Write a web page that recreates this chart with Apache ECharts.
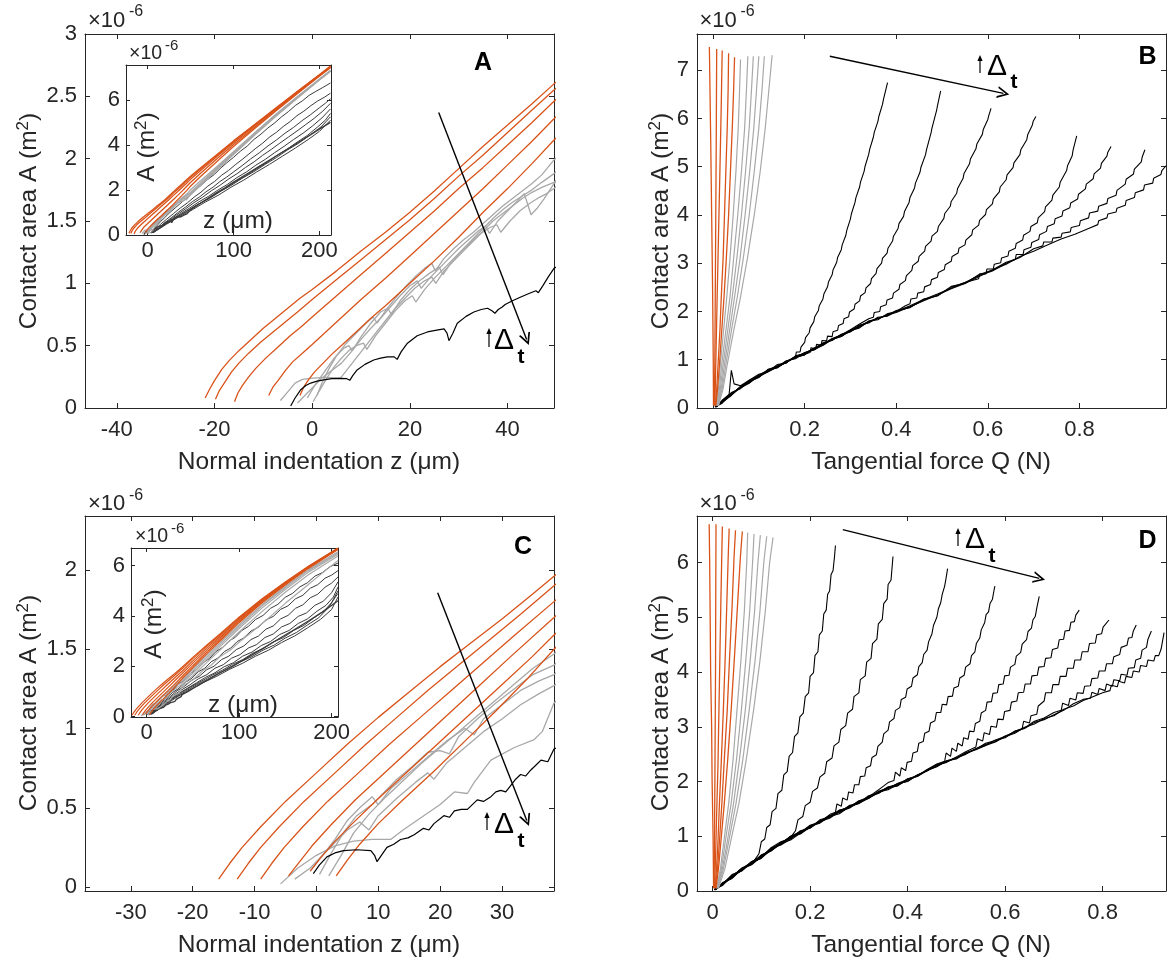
<!DOCTYPE html>
<html><head><meta charset="utf-8">
<script src="https://cdn.jsdelivr.net/npm/echarts@6/dist/echarts.min.js"></script>
<style>html,body{margin:0;padding:0;background:#fff}#c{width:1174px;height:962px}</style>
</head><body><div id="c"></div>
<script>
// ---------- tick labels ----------
const A_xticks = [-40, -20, 0, 20, 40];
const A_yticks = [0, 0.5, 1, 1.5, 2, 2.5, 3];
const inset_xticks = [0, 100, 200];
const inset_yticks = [0, 2, 4, 6];
const B_xticks = [0, 0.2, 0.4, 0.6, 0.8];
const B_yticks = [0, 1, 2, 3, 4, 5, 6, 7];
const C_xticks = [-30, -20, -10, 0, 10, 20, 30];
const C_yticks = [0, 0.5, 1, 1.5, 2];
const D_xticks = [0, 0.2, 0.4, 0.6, 0.8];
const D_yticks = [0, 1, 2, 3, 4, 5, 6];

// ---------- Panel A : z (um) vs A (x1e-6 m^2) ----------
const A_orange = [
 [[-21.9,0.08],[-21,0.15],[-20,0.22],[-18.5,0.31],[-17,0.38],[-15,0.46],[-12.5,0.55],[-10,0.64],[-7.5,0.72],[-5,0.8],[-2.5,0.88],[0,0.95],[5,1.1],[10,1.26],[15,1.41],[20,1.57],[25,1.74],[30,1.92],[35,2.1],[40,2.27],[45,2.44],[49.5,2.6],[60,2.93],[80,3.55],[100,4.18],[125,4.92],[150,5.66],[175,6.4],[200,7.12],[213,7.5]],
 [[-19.8,0.07],[-19,0.14],[-18,0.2],[-16.5,0.29],[-15,0.36],[-13,0.44],[-10.5,0.53],[-8,0.61],[-5.5,0.69],[-3,0.77],[0,0.87],[5,1.03],[10,1.19],[15,1.35],[20,1.51],[25,1.68],[30,1.86],[35,2.03],[40,2.21],[45,2.39],[49.5,2.55],[60,2.89],[80,3.52],[100,4.15],[125,4.9],[150,5.64],[175,6.38],[200,7.1],[213,7.48]],
 [[-15.9,0.05],[-15.2,0.12],[-14.3,0.18],[-13,0.25],[-11.5,0.32],[-9.5,0.4],[-7,0.49],[-4.5,0.58],[-2,0.66],[0,0.73],[5,0.9],[10,1.07],[15,1.24],[20,1.41],[25,1.58],[30,1.76],[35,1.93],[40,2.11],[45,2.29],[49.5,2.46],[60,2.81],[80,3.46],[100,4.1],[125,4.86],[150,5.61],[175,6.36],[200,7.09],[213,7.47]],
 [[-8.9,0.1],[-8,0.17],[-7,0.22],[-5.5,0.3],[-4,0.37],[-2,0.44],[0,0.51],[2.5,0.6],[5,0.69],[7.5,0.78],[10,0.87],[15,1.04],[20,1.22],[25,1.4],[30,1.58],[35,1.76],[40,1.95],[45,2.14],[49.5,2.32],[60,2.69],[80,3.36],[100,4.02],[125,4.8],[150,5.57],[175,6.33],[200,7.07],[213,7.45]],
 [[-2.5,0.1],[-1.7,0.17],[-0.7,0.23],[0.5,0.29],[2,0.35],[4,0.43],[6.5,0.52],[9,0.61],[12,0.72],[15,0.82],[20,1.0],[25,1.18],[30,1.37],[35,1.57],[40,1.76],[45,1.96],[49.5,2.15],[60,2.54],[80,3.24],[100,3.93],[125,4.74],[150,5.53],[175,6.3],[200,7.05],[213,7.43]]
];
const A_gray = [
 [[-6.5,0.06],[-5,0.13],[-3.5,0.2],[-2,0.23],[0,0.24],[3,0.245],[5.8,0.24],[7,0.3],[9,0.4],[11,0.5],[13,0.6],[15,0.7],[17,0.8],[19,0.88],[21,0.96],[23,1.02],[24.5,1.05],[25.3,1.0],[27,1.1],[29,1.18],[31,1.26],[33,1.34],[35,1.42],[37,1.5],[39,1.56],[41,1.62],[43,1.68],[45,1.73],[47,1.77],[49.5,1.81],[60,2.2],[80,2.92],[100,3.62],[125,4.48],[150,5.32],[175,6.12],[200,6.9],[213,7.28]],
 [[-1,0.08],[0.5,0.18],[2.5,0.29],[4.5,0.4],[6.5,0.48],[7.5,0.5],[8.2,0.46],[10,0.57],[12,0.68],[14,0.77],[15.5,0.8],[16.2,0.75],[18,0.86],[20,0.95],[22,1.02],[24,1.08],[26,1.13],[26.8,1.07],[28.5,1.17],[30.5,1.25],[32.5,1.33],[34.5,1.4],[36.5,1.45],[37.8,1.47],[38.6,1.41],[40.5,1.5],[42.5,1.58],[44.5,1.64],[46.5,1.69],[48,1.72],[49.5,1.76],[60,2.14],[80,2.86],[100,3.57],[125,4.45],[150,5.3],[175,6.1],[200,6.88],[213,7.27]],
 [[1,0.1],[2,0.2],[3.5,0.32],[5,0.42],[7,0.52],[9,0.6],[11,0.68],[12.5,0.73],[13.3,0.68],[15,0.78],[17,0.88],[19,0.97],[21,1.05],[23,1.12],[24.5,1.16],[25.2,1.1],[27,1.2],[29,1.28],[31,1.35],[33,1.41],[35,1.48],[37,1.55],[39,1.62],[41,1.68],[43,1.74],[45,1.8],[47,1.87],[49.5,1.99],[60,2.35],[80,3.02],[100,3.7],[125,4.55],[150,5.38],[175,6.16],[200,6.92],[213,7.3]],
 [[-3,0.04],[-1.5,0.1],[0,0.16],[2,0.24],[4,0.3],[6,0.36],[8,0.45],[10,0.55],[12,0.64],[14,0.72],[16,0.81],[18,0.9],[20,0.98],[21.5,1.02],[22.3,0.96],[24,1.04],[26,1.12],[28,1.2],[30,1.28],[32,1.35],[34,1.42],[35.5,1.46],[36.3,1.4],[38,1.5],[40,1.58],[42,1.66],[43.4,1.72],[44.8,1.55],[46,1.6],[47.5,1.68],[49.5,1.8],[60,2.17],[80,2.88],[100,3.6],[125,4.47],[150,5.32],[175,6.12],[200,6.9],[213,7.28]],
 [[0.2,0.05],[1.5,0.14],[3,0.24],[4.5,0.33],[6,0.4],[7.5,0.46],[9,0.5],[10.5,0.52],[11.2,0.47],[13,0.58],[15,0.68],[17,0.78],[19,0.86],[20.5,0.9],[21.2,0.85],[23,0.95],[25,1.04],[27,1.12],[29,1.2],[31,1.28],[33,1.36],[35,1.44],[37,1.52],[39,1.59],[41,1.65],[43,1.7],[45,1.75],[47,1.81],[49.5,1.88],[60,2.26],[80,2.96],[100,3.66],[125,4.52],[150,5.36],[175,6.15],[200,6.92],[213,7.3]]
];
const A_black = [
 [[-4.4,0.016],[-3.5,0.08],[-2.4,0.144],[-1.3,0.18],[-0.3,0.2],[1,0.215],[2.4,0.225],[4,0.235],[5.8,0.238],[7,0.236],[7.7,0.222],[8.3,0.26],[9.2,0.305],[10.8,0.35],[12.6,0.385],[14,0.4],[15.4,0.41],[16.8,0.41],[17.4,0.39],[18.2,0.45],[19.5,0.52],[21.5,0.58],[23.6,0.61],[25.5,0.625],[27,0.634],[27.6,0.6],[28,0.54],[28.8,0.6],[29.7,0.68],[31.5,0.735],[33.1,0.77],[34.6,0.79],[35.9,0.8],[36.8,0.78],[37.4,0.76],[38.1,0.79],[38.9,0.81],[39.5,0.83],[41,0.86],[42.7,0.89],[44.5,0.92],[45.8,0.94],[46.3,0.925],[47.2,0.98],[48.3,1.05],[49.5,1.12],[55,1.25],[60,1.38],[70,1.62],[80,1.87],[90,2.1],[100,2.35],[115,2.7],[130,3.05],[145,3.4],[160,3.75],[175,4.1],[190,4.45],[200,4.7],[213,5.0]]
];
const A_inset_dark = [
 [[3,0.08],[6,0.2],[10,0.38],[15,0.6],[20,0.78],[25,0.97],[32,1.2],[40,1.47],[48,1.72],[55,1.98],[62,2.2],[70,2.47],[78,2.7],[85,2.97],[92,3.2],[100,3.45],[108,3.72],[116,3.95],[124,4.25],[132,4.48],[140,4.75],[148,4.98],[156,5.25],[164,5.48],[172,5.75],[180,5.95],[188,6.2],[196,6.38],[204,6.55],[213,6.75]],
 [[4,0.08],[9,0.25],[15,0.48],[22,0.7],[30,0.95],[38,1.2],[46,1.42],[54,1.68],[62,1.9],[70,2.17],[78,2.38],[86,2.65],[94,2.86],[102,3.12],[110,3.35],[118,3.6],[126,3.85],[134,4.08],[142,4.35],[150,4.56],[158,4.82],[166,5.04],[174,5.3],[182,5.5],[190,5.74],[198,5.95],[206,6.12],[213,6.3]],
 [[5,0.1],[12,0.3],[20,0.55],[28,0.78],[36,1.02],[44,1.24],[52,1.48],[60,1.68],[68,1.92],[76,2.12],[84,2.37],[92,2.57],[100,2.8],[110,3.08],[120,3.38],[130,3.65],[140,3.95],[150,4.22],[160,4.52],[170,4.78],[180,5.08],[190,5.35],[200,5.65],[207,5.85],[213,6.05]],
 [[5,0.1],[14,0.32],[24,0.62],[34,0.9],[44,1.16],[54,1.44],[64,1.68],[74,1.96],[84,2.2],[94,2.48],[104,2.72],[114,3.0],[124,3.25],[134,3.54],[144,3.8],[154,4.08],[164,4.35],[174,4.62],[184,4.9],[194,5.18],[204,5.5],[213,5.85]],
 [[6,0.1],[16,0.36],[27,0.66],[38,0.94],[49,1.2],[60,1.48],[71,1.72],[82,2.0],[93,2.25],[104,2.55],[115,2.8],[126,3.1],[137,3.36],[148,3.66],[159,3.94],[170,4.24],[181,4.52],[192,4.84],[203,5.2],[213,5.6]],
 [[6,0.12],[18,0.42],[30,0.72],[42,0.98],[54,1.26],[66,1.52],[78,1.8],[90,2.06],[102,2.36],[114,2.62],[126,2.92],[138,3.2],[150,3.52],[162,3.8],[174,4.12],[186,4.42],[198,4.8],[207,5.1],[213,5.4]],
 [[7,0.12],[20,0.46],[33,0.78],[46,1.05],[59,1.36],[72,1.62],[85,1.94],[98,2.22],[111,2.54],[124,2.82],[137,3.14],[150,3.44],[163,3.78],[176,4.08],[189,4.44],[202,4.8],[213,5.25]],
 [[7,0.12],[22,0.48],[37,0.82],[52,1.12],[67,1.46],[82,1.76],[97,2.12],[112,2.44],[127,2.8],[142,3.14],[157,3.5],[172,3.86],[187,4.24],[200,4.6],[213,5.1]]
];

// ---------- Panel B : Q (N) vs A ----------
const B_orange = [
 [[0.001,0.05],[0.0005,1],[-0.001,2.5],[-0.003,4],[-0.005,5.5],[-0.008,7.48]],
 [[0.003,0.05],[0.004,1],[0.005,2.5],[0.006,4],[0.007,5.5],[0.008,7.44]],
 [[0.004,0.05],[0.006,0.9],[0.009,2.3],[0.012,3.6],[0.015,4.9],[0.018,6.3],[0.02,7.41]],
 [[0.005,0.05],[0.008,0.4],[0.011,0.9],[0.015,1.6],[0.018,2.3],[0.022,3.1],[0.025,4.0],[0.028,4.9],[0.031,5.8],[0.033,6.6],[0.034,7.35]],
 [[0.006,0.05],[0.01,0.4],[0.014,0.9],[0.019,1.6],[0.024,2.3],[0.029,3.1],[0.034,4.0],[0.038,4.9],[0.042,5.8],[0.045,6.6],[0.047,7.27]]
];
const B_gray = [
 [[0.007,0.05],[0.012,0.4],[0.016,0.9],[0.023,1.6],[0.03,2.3],[0.037,3.1],[0.044,4.0],[0.05,4.9],[0.055,5.8],[0.058,6.6],[0.06,7.22]],
 [[0.008,0.05],[0.014,0.4],[0.019,0.9],[0.028,1.6],[0.037,2.3],[0.045,3.1],[0.054,4.0],[0.062,4.9],[0.069,5.8],[0.073,6.6],[0.076,7.29]],
 [[0.009,0.05],[0.016,0.4],[0.022,0.9],[0.032,1.6],[0.042,2.3],[0.052,3.1],[0.062,4.0],[0.071,4.9],[0.079,5.8],[0.084,6.6],[0.088,7.29]],
 [[0.01,0.05],[0.018,0.4],[0.025,0.9],[0.036,1.6],[0.047,2.3],[0.059,3.1],[0.07,4.0],[0.08,4.9],[0.089,5.8],[0.095,6.6],[0.1,7.29]],
 [[0.011,0.05],[0.02,0.4],[0.028,0.9],[0.04,1.6],[0.053,2.3],[0.066,3.1],[0.079,4.0],[0.09,4.9],[0.1,5.8],[0.107,6.6],[0.112,7.29]],
 [[0.012,0.05],[0.022,0.4],[0.031,0.9],[0.045,1.6],[0.06,2.3],[0.075,3.1],[0.09,4.0],[0.103,4.9],[0.114,5.8],[0.122,6.6],[0.129,7.31]]
];
const B_black = [
 [[0.004,0.02],[0.02,0.14],[0.035,0.27],[0.04,0.78],[0.046,0.5],[0.06,0.46],[0.08,0.58],[0.1,0.67],[0.12,0.77],[0.14,0.87],[0.16,0.96],[0.175,1.04],[0.18,1.06],[0.182,1.16],[0.19,1.16],[0.192,1.26],[0.2,1.36],[0.202,1.46],[0.21,1.56],[0.212,1.66],[0.22,1.79],[0.222,1.89],[0.23,2.02],[0.232,2.12],[0.24,2.26],[0.242,2.36],[0.25,2.51],[0.252,2.61],[0.26,2.76],[0.262,2.86],[0.27,3.02],[0.272,3.12],[0.28,3.28],[0.282,3.38],[0.29,3.58],[0.292,3.68],[0.3,3.92],[0.302,4.02],[0.31,4.26],[0.312,4.36],[0.32,4.58],[0.322,4.68],[0.33,4.91],[0.332,5.01],[0.34,5.26],[0.342,5.36],[0.35,5.61],[0.352,5.71],[0.36,5.94],[0.362,6.04],[0.37,6.29],[0.372,6.39],[0.381,6.74]],
 [[0.006,0.03],[0.02,0.1],[0.03,0.22],[0.05,0.36],[0.07,0.5],[0.09,0.6],[0.11,0.7],[0.13,0.8],[0.15,0.9],[0.17,1.0],[0.2,1.12],[0.212,1.15],[0.214,1.25],[0.224,1.22],[0.226,1.32],[0.236,1.3],[0.238,1.4],[0.248,1.39],[0.25,1.49],[0.26,1.48],[0.262,1.58],[0.272,1.61],[0.274,1.71],[0.284,1.75],[0.286,1.85],[0.296,1.89],[0.298,1.99],[0.308,2.05],[0.31,2.15],[0.32,2.22],[0.322,2.32],[0.332,2.39],[0.334,2.49],[0.344,2.58],[0.346,2.68],[0.356,2.79],[0.358,2.89],[0.368,3.0],[0.37,3.1],[0.38,3.21],[0.382,3.31],[0.392,3.46],[0.394,3.56],[0.404,3.72],[0.406,3.82],[0.416,3.97],[0.418,4.07],[0.428,4.26],[0.43,4.36],[0.44,4.56],[0.442,4.66],[0.452,4.89],[0.454,4.99],[0.464,5.25],[0.466,5.35],[0.476,5.7],[0.478,5.8],[0.488,6.16],[0.49,6.26],[0.497,6.57]],
 [[0.005,0.02],[0.025,0.15],[0.04,0.3],[0.06,0.42],[0.08,0.55],[0.1,0.65],[0.12,0.77],[0.14,0.86],[0.16,0.97],[0.18,1.04],[0.2,1.14],[0.22,1.22],[0.24,1.33],[0.26,1.42],[0.28,1.52],[0.3,1.62],[0.32,1.74],[0.34,1.85],[0.35,1.88],[0.352,1.98],[0.364,2.0],[0.366,2.1],[0.378,2.14],[0.38,2.24],[0.392,2.28],[0.394,2.38],[0.406,2.46],[0.408,2.56],[0.42,2.64],[0.422,2.74],[0.434,2.85],[0.436,2.95],[0.448,3.04],[0.45,3.14],[0.462,3.25],[0.464,3.35],[0.476,3.46],[0.478,3.56],[0.49,3.66],[0.492,3.76],[0.504,3.93],[0.506,4.03],[0.518,4.18],[0.52,4.28],[0.532,4.45],[0.534,4.55],[0.546,4.76],[0.548,4.86],[0.56,5.06],[0.562,5.16],[0.574,5.37],[0.576,5.47],[0.588,5.67],[0.59,5.77],[0.6,5.98],[0.602,6.06],[0.607,6.21]],
 [[0.006,0.03],[0.02,0.13],[0.04,0.28],[0.06,0.44],[0.08,0.53],[0.1,0.66],[0.12,0.76],[0.14,0.85],[0.16,0.95],[0.18,1.06],[0.2,1.1],[0.22,1.24],[0.24,1.3],[0.26,1.43],[0.28,1.48],[0.3,1.6],[0.32,1.7],[0.34,1.78],[0.36,1.86],[0.38,1.92],[0.4,2.0],[0.42,2.12],[0.43,2.16],[0.432,2.26],[0.445,2.28],[0.447,2.38],[0.46,2.41],[0.462,2.51],[0.475,2.56],[0.477,2.66],[0.49,2.71],[0.492,2.81],[0.505,2.87],[0.507,2.97],[0.52,3.04],[0.522,3.14],[0.535,3.21],[0.537,3.31],[0.55,3.38],[0.552,3.48],[0.565,3.59],[0.567,3.69],[0.58,3.79],[0.582,3.89],[0.595,4.01],[0.597,4.11],[0.61,4.23],[0.612,4.33],[0.625,4.48],[0.627,4.58],[0.64,4.73],[0.642,4.83],[0.655,4.98],[0.657,5.08],[0.67,5.25],[0.672,5.35],[0.685,5.56],[0.687,5.66],[0.697,5.86],[0.699,5.94],[0.705,6.04]],
 [[0.007,0.02],[0.02,0.16],[0.04,0.32],[0.06,0.4],[0.08,0.56],[0.1,0.64],[0.12,0.79],[0.14,0.84],[0.16,0.98],[0.18,1.02],[0.2,1.15],[0.22,1.2],[0.24,1.35],[0.26,1.4],[0.28,1.53],[0.3,1.58],[0.32,1.72],[0.34,1.76],[0.36,1.88],[0.38,1.9],[0.4,2.0],[0.43,2.12],[0.46,2.25],[0.49,2.36],[0.52,2.48],[0.55,2.6],[0.58,2.68],[0.582,2.78],[0.596,2.78],[0.598,2.88],[0.612,2.88],[0.614,2.98],[0.628,3.01],[0.63,3.11],[0.644,3.15],[0.646,3.25],[0.66,3.31],[0.662,3.41],[0.676,3.48],[0.678,3.58],[0.692,3.66],[0.694,3.76],[0.708,3.84],[0.71,3.94],[0.724,4.07],[0.726,4.17],[0.74,4.31],[0.742,4.41],[0.756,4.58],[0.758,4.68],[0.772,4.92],[0.774,5.02],[0.784,5.22],[0.786,5.34],[0.794,5.64]],
 [[0.005,0.03],[0.02,0.12],[0.04,0.26],[0.06,0.43],[0.08,0.58],[0.1,0.7],[0.12,0.75],[0.14,0.9],[0.16,0.93],[0.18,1.08],[0.2,1.13],[0.22,1.24],[0.24,1.34],[0.26,1.41],[0.28,1.5],[0.3,1.6],[0.32,1.66],[0.34,1.8],[0.36,1.85],[0.38,1.93],[0.4,1.98],[0.43,2.1],[0.46,2.22],[0.49,2.34],[0.52,2.47],[0.55,2.58],[0.58,2.72],[0.61,2.86],[0.64,3.02],[0.66,3.08],[0.662,3.18],[0.677,3.18],[0.679,3.28],[0.694,3.33],[0.696,3.43],[0.711,3.49],[0.713,3.59],[0.728,3.66],[0.73,3.76],[0.745,3.82],[0.747,3.92],[0.762,3.98],[0.764,4.08],[0.779,4.15],[0.781,4.25],[0.796,4.33],[0.798,4.43],[0.813,4.54],[0.815,4.64],[0.83,4.75],[0.832,4.85],[0.846,4.97],[0.848,5.07],[0.86,5.22],[0.862,5.3],[0.869,5.42]],
 [[0.006,0.02],[0.02,0.15],[0.04,0.3],[0.06,0.42],[0.08,0.52],[0.1,0.68],[0.12,0.79],[0.14,0.83],[0.16,0.96],[0.18,1.05],[0.2,1.1],[0.22,1.23],[0.24,1.32],[0.26,1.44],[0.28,1.51],[0.3,1.58],[0.32,1.7],[0.34,1.8],[0.36,1.83],[0.38,1.95],[0.4,2.0],[0.43,2.09],[0.46,2.24],[0.49,2.33],[0.52,2.5],[0.55,2.6],[0.58,2.74],[0.61,2.84],[0.64,3.0],[0.67,3.12],[0.7,3.3],[0.72,3.36],[0.722,3.44],[0.74,3.44],[0.742,3.52],[0.76,3.54],[0.762,3.62],[0.78,3.65],[0.782,3.74],[0.8,3.78],[0.802,3.88],[0.82,3.94],[0.822,4.04],[0.84,4.08],[0.842,4.18],[0.86,4.24],[0.862,4.34],[0.88,4.41],[0.882,4.51],[0.9,4.64],[0.902,4.74],[0.918,4.85],[0.92,4.95],[0.935,5.1],[0.937,5.2],[0.943,5.35]],
 [[0.008,0.03],[0.02,0.13],[0.04,0.27],[0.06,0.45],[0.08,0.55],[0.1,0.63],[0.12,0.8],[0.14,0.86],[0.16,0.94],[0.18,1.06],[0.2,1.14],[0.22,1.2],[0.24,1.3],[0.26,1.42],[0.28,1.48],[0.3,1.62],[0.32,1.68],[0.34,1.78],[0.36,1.86],[0.38,1.91],[0.4,2.02],[0.43,2.08],[0.46,2.26],[0.49,2.32],[0.52,2.52],[0.55,2.58],[0.58,2.76],[0.61,2.86],[0.64,2.98],[0.67,3.14],[0.7,3.25],[0.73,3.38],[0.76,3.5],[0.79,3.6],[0.82,3.72],[0.84,3.8],[0.842,3.88],[0.86,3.94],[0.862,4.02],[0.88,4.06],[0.882,4.14],[0.9,4.2],[0.902,4.3],[0.92,4.36],[0.922,4.46],[0.94,4.52],[0.942,4.62],[0.96,4.66],[0.962,4.76],[0.978,4.84],[0.98,4.92],[0.989,5.02]]
];

// ---------- Panel C ----------
const C_orange = [
 [[-15.8,0.05],[-14,0.15],[-12,0.25],[-9,0.38],[-5,0.54],[0,0.72],[5,0.9],[10,1.07],[15,1.23],[20,1.39],[25,1.54],[30,1.69],[35,1.85],[38.4,1.96],[50,2.35],[65,2.83],[80,3.3],[100,3.95],[125,4.68],[150,5.35],[175,5.97],[207,6.7]],
 [[-12.8,0.05],[-11,0.15],[-9,0.25],[-6,0.38],[-2,0.54],[3,0.72],[8,0.9],[13,1.07],[18,1.24],[23,1.4],[28,1.56],[33,1.72],[38.4,1.9],[50,2.3],[65,2.79],[80,3.27],[100,3.92],[125,4.66],[150,5.33],[175,5.96],[207,6.69]],
 [[-9,0.05],[-7.2,0.15],[-5.2,0.25],[-2.2,0.38],[1.8,0.54],[6.8,0.72],[11.8,0.9],[16.8,1.07],[21.8,1.24],[26.8,1.41],[31.8,1.58],[38.4,1.8],[50,2.21],[65,2.72],[80,3.21],[100,3.88],[125,4.63],[150,5.31],[175,5.94],[207,6.68]],
 [[-4.5,0.07],[-2.7,0.16],[-0.7,0.26],[2.3,0.39],[6.3,0.55],[11.3,0.73],[16.3,0.91],[21.3,1.09],[26.3,1.27],[31.3,1.45],[38.4,1.7],[50,2.12],[65,2.64],[80,3.15],[100,3.83],[125,4.6],[150,5.29],[175,5.93],[207,6.67]],
 [[-1,0.1],[0.8,0.19],[2.8,0.28],[5.8,0.4],[9.8,0.55],[14.8,0.73],[19.8,0.91],[24.8,1.09],[29.8,1.27],[34.8,1.45],[38.4,1.59],[50,2.02],[65,2.56],[80,3.08],[100,3.78],[125,4.56],[150,5.26],[175,5.91],[207,6.66]],
 [[3.2,0.07],[5,0.17],[7,0.27],[10,0.4],[14,0.55],[19,0.73],[24,0.92],[29,1.11],[34,1.31],[38.4,1.5],[50,1.94],[65,2.49],[80,3.02],[100,3.73],[125,4.52],[150,5.23],[175,5.89],[207,6.64]]
];
const C_gray = [
 [[-5.8,0.02],[-3,0.12],[0,0.2],[3,0.26],[6,0.29],[9,0.3],[12,0.3],[14,0.36],[17,0.44],[20,0.52],[22.3,0.6],[24.4,0.59],[25.5,0.66],[28.2,0.8],[32,0.88],[35.2,0.93],[36.5,0.98],[38.4,1.16],[42,1.28],[50,1.45],[60,1.8],[70,2.05],[80,2.4],[90,2.62],[100,2.95],[115,3.4],[130,3.85],[150,4.5],[170,5.1],[190,5.7],[207,6.2]],
 [[-3.5,0.05],[-1,0.12],[1,0.2],[3,0.28],[5,0.36],[7,0.41],[8.5,0.36],[10,0.45],[13,0.56],[16,0.66],[18,0.72],[19,0.68],[21,0.78],[24,0.88],[27,0.98],[30,1.06],[33,1.15],[36,1.22],[38.4,1.27],[50,1.62],[65,2.14],[80,2.66],[100,3.36],[125,4.18],[150,4.94],[175,5.64],[207,6.38]],
 [[-1,0.1],[1,0.2],[3,0.3],[5,0.42],[7,0.5],[9,0.57],[10,0.52],[12,0.62],[15,0.72],[18,0.82],[21,0.92],[24,1.0],[25.5,0.96],[27,1.06],[30,1.15],[33,1.24],[36,1.3],[38.4,1.34],[50,1.72],[65,2.26],[80,2.8],[100,3.5],[125,4.32],[150,5.05],[175,5.74],[207,6.45]],
 [[0.5,0.08],[2.5,0.22],[4.5,0.35],[6.5,0.45],[9,0.52],[11,0.6],[13,0.68],[15.5,0.76],[18,0.85],[20,0.86],[21.5,0.84],[23,0.95],[26,1.06],[29,1.16],[32,1.25],[35,1.34],[38.4,1.4],[50,1.8],[65,2.34],[80,2.88],[100,3.58],[125,4.4],[150,5.12],[175,5.8],[207,6.5]],
 [[2,0.07],[4,0.2],[6,0.34],[8.5,0.46],[11,0.56],[14,0.67],[17,0.78],[20,0.88],[23,0.98],[26,1.08],[29,1.18],[32,1.28],[35,1.38],[38.4,1.47],[50,1.88],[65,2.42],[80,2.95],[100,3.65],[125,4.45],[150,5.17],[175,5.84],[207,6.55]]
];
const C_black = [
 [[-0.5,0.085],[0.5,0.14],[1.7,0.19],[3,0.215],[4.4,0.23],[6.5,0.235],[8.8,0.23],[9.4,0.2],[9.8,0.16],[10.5,0.2],[11.4,0.25],[12.5,0.27],[13.6,0.3],[14.8,0.31],[15.8,0.33],[17.3,0.37],[18.2,0.36],[19,0.4],[20.6,0.45],[21.5,0.44],[22.3,0.48],[23.4,0.49],[24.4,0.49],[25.2,0.52],[26,0.55],[27,0.54],[28.2,0.57],[29,0.6],[29.8,0.61],[30.6,0.6],[31.4,0.64],[32.2,0.68],[33,0.71],[33.8,0.7],[34.7,0.74],[35.5,0.77],[36.3,0.8],[37.4,0.79],[38.4,0.87],[45,1.0],[55,1.22],[65,1.43],[75,1.64],[85,1.85],[100,2.15],[115,2.47],[130,2.8],[145,3.13],[160,3.46],[175,3.8],[190,4.15],[207,4.6]]
];
const C_inset_dark = [
 [[0,0.05],[5,0.22],[10,0.42],[16,0.62],[22,0.86],[28,1.02],[34,1.28],[40,1.42],[47,1.7],[54,1.86],[61,2.14],[68,2.3],[75,2.58],[82,2.74],[89,3.0],[96,3.15],[103,3.42],[110,3.58],[118,3.86],[126,4.02],[134,4.3],[142,4.46],[150,4.74],[158,4.9],[166,5.16],[174,5.32],[182,5.58],[190,5.72],[198,5.95],[207,6.1]],
 [[2,0.06],[8,0.28],[14,0.5],[21,0.72],[28,0.95],[35,1.12],[42,1.36],[49,1.52],[56,1.78],[63,1.92],[70,2.18],[77,2.32],[84,2.58],[91,2.72],[98,2.98],[105,3.12],[113,3.4],[121,3.55],[129,3.84],[137,3.98],[145,4.26],[153,4.4],[161,4.68],[169,4.82],[177,5.1],[185,5.24],[193,5.5],[200,5.62],[207,5.8]],
 [[3,0.07],[10,0.3],[17,0.54],[25,0.78],[33,1.02],[41,1.2],[49,1.45],[57,1.6],[65,1.86],[73,2.0],[81,2.26],[89,2.4],[97,2.66],[105,2.8],[113,3.06],[121,3.2],[129,3.47],[137,3.6],[145,3.88],[153,4.02],[161,4.3],[169,4.44],[177,4.72],[185,4.86],[193,5.14],[200,5.3],[207,5.55]],
 [[4,0.08],[12,0.34],[20,0.58],[29,0.84],[38,1.06],[47,1.26],[56,1.5],[65,1.66],[74,1.92],[83,2.06],[92,2.32],[101,2.46],[110,2.72],[119,2.86],[128,3.14],[137,3.28],[146,3.56],[155,3.7],[164,3.98],[173,4.12],[182,4.42],[191,4.58],[200,4.92],[207,5.35]],
 [[5,0.08],[14,0.36],[24,0.64],[34,0.9],[44,1.12],[54,1.34],[64,1.56],[74,1.74],[84,1.98],[94,2.14],[104,2.4],[114,2.56],[124,2.82],[134,2.98],[144,3.26],[154,3.42],[164,3.7],[174,3.88],[184,4.18],[194,4.42],[202,4.75],[207,5.15]],
 [[5,0.1],[16,0.4],[27,0.7],[38,0.96],[49,1.2],[60,1.42],[71,1.64],[82,1.84],[93,2.08],[104,2.26],[115,2.52],[126,2.7],[137,2.96],[148,3.14],[159,3.42],[170,3.62],[181,3.92],[192,4.2],[200,4.52],[207,5.0]],
 [[6,0.1],[18,0.44],[30,0.74],[42,1.0],[54,1.26],[66,1.48],[78,1.72],[90,1.92],[102,2.18],[114,2.38],[126,2.64],[138,2.84],[150,3.12],[162,3.34],[174,3.64],[186,3.92],[196,4.3],[207,4.9]],
 [[6,0.1],[20,0.46],[34,0.8],[48,1.08],[62,1.36],[76,1.6],[90,1.88],[104,2.12],[118,2.4],[132,2.64],[146,2.94],[160,3.2],[174,3.52],[188,3.86],[200,4.25],[207,4.75]]
];

// ---------- Panel D ----------
const D_orange = [
 [[0.002,0.05],[0.001,1],[-0.001,2],[-0.002,3],[-0.004,4],[-0.005,5],[-0.006,6],[-0.007,6.7]],
 [[0.003,0.05],[0.004,1],[0.005,2.5],[0.006,4],[0.0065,5.5],[0.007,6.7]],
 [[0.004,0.05],[0.006,0.6],[0.008,1.3],[0.011,2.3],[0.013,3.3],[0.015,4.3],[0.017,5.3],[0.019,6.2],[0.02,6.66]],
 [[0.005,0.05],[0.008,0.4],[0.011,0.9],[0.014,1.6],[0.018,2.4],[0.022,3.3],[0.026,4.3],[0.029,5.2],[0.032,6.1],[0.034,6.62]],
 [[0.006,0.05],[0.01,0.4],[0.014,0.9],[0.019,1.6],[0.024,2.4],[0.03,3.3],[0.035,4.3],[0.04,5.2],[0.044,6.1],[0.047,6.59]],
 [[0.007,0.05],[0.012,0.4],[0.017,0.9],[0.024,1.6],[0.031,2.4],[0.038,3.3],[0.045,4.3],[0.051,5.2],[0.057,6.1],[0.061,6.57]]
];
const D_gray = [
 [[0.008,0.05],[0.016,0.4],[0.023,0.9],[0.033,1.6],[0.042,2.4],[0.05,3.3],[0.058,4.2],[0.065,5.1],[0.07,6.0],[0.072,6.55]],
 [[0.009,0.05],[0.018,0.4],[0.026,0.9],[0.038,1.6],[0.049,2.4],[0.059,3.3],[0.068,4.2],[0.076,5.1],[0.082,6.0],[0.085,6.52]],
 [[0.01,0.05],[0.02,0.4],[0.03,0.9],[0.043,1.6],[0.055,2.4],[0.067,3.3],[0.077,4.2],[0.086,5.1],[0.093,6.0],[0.098,6.5]],
 [[0.011,0.05],[0.022,0.4],[0.033,0.9],[0.048,1.6],[0.062,2.4],[0.075,3.3],[0.087,4.2],[0.097,5.1],[0.105,6.0],[0.111,6.48]],
 [[0.012,0.05],[0.025,0.4],[0.037,0.9],[0.054,1.6],[0.069,2.4],[0.084,3.3],[0.097,4.2],[0.108,5.1],[0.117,6.0],[0.124,6.46]]
];
const D_black = [
 [[0.003,0.02],[0.02,0.12],[0.04,0.25],[0.055,0.38],[0.07,0.45],[0.085,0.55],[0.095,0.68],[0.1,0.9],[0.107,0.95],[0.111,1.16],[0.118,1.21],[0.122,1.45],[0.13,1.51],[0.134,1.78],[0.142,1.84],[0.146,2.12],[0.153,2.18],[0.157,2.46],[0.164,2.53],[0.168,2.82],[0.175,2.89],[0.179,3.18],[0.186,3.25],[0.19,3.55],[0.197,3.62],[0.2,3.92],[0.207,3.99],[0.21,4.3],[0.216,4.37],[0.219,4.68],[0.225,4.75],[0.228,5.06],[0.233,5.13],[0.236,5.42],[0.24,5.48],[0.243,5.78],[0.247,5.85],[0.25,6.1],[0.252,6.31]],
 [[0.004,0.03],[0.02,0.1],[0.04,0.27],[0.06,0.38],[0.08,0.52],[0.1,0.6],[0.12,0.77],[0.14,0.88],[0.16,0.98],[0.17,1.1],[0.175,1.3],[0.185,1.36],[0.19,1.56],[0.2,1.62],[0.205,1.82],[0.215,1.88],[0.22,2.08],[0.23,2.15],[0.234,2.36],[0.245,2.43],[0.249,2.65],[0.259,2.72],[0.263,2.95],[0.273,3.02],[0.277,3.25],[0.287,3.32],[0.29,3.55],[0.3,3.62],[0.303,3.86],[0.313,3.93],[0.316,4.18],[0.325,4.25],[0.328,4.52],[0.337,4.6],[0.34,4.88],[0.348,4.96],[0.351,5.25],[0.358,5.33],[0.36,5.6],[0.366,5.68],[0.37,6.11]],
 [[0.005,0.02],[0.02,0.14],[0.04,0.23],[0.06,0.4],[0.08,0.5],[0.1,0.65],[0.12,0.74],[0.14,0.86],[0.16,1.0],[0.18,1.06],[0.2,1.18],[0.22,1.26],[0.241,1.4],[0.252,1.44],[0.255,1.59],[0.264,1.55],[0.267,1.7],[0.276,1.66],[0.279,1.81],[0.288,1.79],[0.291,1.94],[0.3,1.94],[0.303,2.09],[0.312,2.1],[0.315,2.25],[0.324,2.29],[0.327,2.44],[0.336,2.49],[0.339,2.64],[0.348,2.72],[0.351,2.87],[0.36,2.94],[0.363,3.09],[0.372,3.15],[0.375,3.3],[0.384,3.35],[0.387,3.5],[0.396,3.54],[0.399,3.69],[0.408,3.74],[0.411,3.89],[0.42,3.95],[0.423,4.1],[0.43,4.17],[0.433,4.32],[0.44,4.4],[0.443,4.55],[0.45,4.7],[0.453,4.85],[0.46,5.0],[0.463,5.15],[0.468,5.27],[0.471,5.42],[0.476,5.57],[0.479,5.72],[0.482,5.89]],
 [[0.006,0.03],[0.02,0.12],[0.04,0.28],[0.06,0.37],[0.08,0.53],[0.1,0.63],[0.12,0.78],[0.14,0.85],[0.16,1.0],[0.18,1.08],[0.2,1.16],[0.22,1.28],[0.24,1.36],[0.26,1.46],[0.28,1.53],[0.3,1.64],[0.315,1.7],[0.33,1.78],[0.345,1.88],[0.36,1.98],[0.372,2.02],[0.375,2.17],[0.384,2.1],[0.387,2.25],[0.396,2.2],[0.399,2.35],[0.408,2.37],[0.411,2.52],[0.42,2.55],[0.423,2.7],[0.432,2.73],[0.435,2.88],[0.444,2.92],[0.447,3.07],[0.456,3.11],[0.459,3.26],[0.468,3.26],[0.471,3.41],[0.48,3.4],[0.483,3.55],[0.492,3.56],[0.495,3.71],[0.504,3.74],[0.507,3.89],[0.516,3.94],[0.519,4.09],[0.528,4.15],[0.531,4.3],[0.538,4.37],[0.541,4.52],[0.548,4.62],[0.551,4.77],[0.558,4.9],[0.561,5.05],[0.566,5.1],[0.569,5.25],[0.574,5.33],[0.577,5.48],[0.579,5.57]],
 [[0.004,0.02],[0.02,0.15],[0.04,0.24],[0.06,0.41],[0.08,0.49],[0.1,0.64],[0.12,0.75],[0.14,0.87],[0.16,0.99],[0.18,1.05],[0.2,1.19],[0.22,1.25],[0.24,1.37],[0.26,1.45],[0.28,1.55],[0.3,1.6],[0.32,1.72],[0.34,1.8],[0.36,1.9],[0.38,1.95],[0.4,2.04],[0.42,2.1],[0.44,2.22],[0.46,2.32],[0.476,2.37],[0.479,2.52],[0.488,2.46],[0.491,2.61],[0.5,2.55],[0.503,2.7],[0.512,2.65],[0.515,2.8],[0.524,2.77],[0.527,2.92],[0.536,2.91],[0.539,3.06],[0.548,3.1],[0.551,3.25],[0.56,3.3],[0.563,3.45],[0.572,3.46],[0.575,3.61],[0.584,3.62],[0.587,3.77],[0.596,3.78],[0.599,3.93],[0.608,3.94],[0.611,4.09],[0.62,4.14],[0.623,4.29],[0.632,4.36],[0.635,4.51],[0.644,4.59],[0.647,4.74],[0.654,4.8],[0.657,4.95],[0.662,5.02],[0.665,5.17],[0.67,5.38]],
 [[0.005,0.03],[0.02,0.11],[0.04,0.29],[0.06,0.39],[0.08,0.54],[0.1,0.61],[0.12,0.79],[0.14,0.9],[0.16,0.96],[0.18,1.1],[0.2,1.15],[0.22,1.3],[0.24,1.35],[0.26,1.48],[0.28,1.52],[0.3,1.65],[0.32,1.7],[0.34,1.82],[0.36,1.88],[0.38,1.96],[0.4,2.0],[0.42,2.12],[0.44,2.2],[0.46,2.3],[0.48,2.35],[0.5,2.45],[0.52,2.55],[0.54,2.63],[0.543,2.78],[0.554,2.74],[0.557,2.89],[0.568,2.86],[0.571,3.01],[0.582,2.99],[0.585,3.14],[0.596,3.13],[0.599,3.28],[0.61,3.3],[0.613,3.45],[0.624,3.47],[0.627,3.62],[0.638,3.63],[0.641,3.78],[0.652,3.78],[0.655,3.93],[0.666,3.94],[0.669,4.09],[0.68,4.1],[0.683,4.25],[0.694,4.26],[0.697,4.41],[0.708,4.44],[0.711,4.59],[0.72,4.6],[0.723,4.75],[0.732,4.76],[0.735,4.91],[0.742,4.92],[0.745,5.04],[0.752,5.13]],
 [[0.006,0.02],[0.02,0.13],[0.04,0.26],[0.06,0.42],[0.08,0.51],[0.1,0.66],[0.12,0.73],[0.14,0.88],[0.16,0.97],[0.18,1.07],[0.2,1.2],[0.22,1.26],[0.24,1.38],[0.26,1.43],[0.28,1.56],[0.3,1.61],[0.32,1.74],[0.34,1.78],[0.36,1.9],[0.38,1.93],[0.4,2.05],[0.42,2.1],[0.44,2.21],[0.46,2.28],[0.48,2.38],[0.5,2.43],[0.52,2.52],[0.54,2.58],[0.56,2.66],[0.58,2.72],[0.6,2.82],[0.62,2.92],[0.635,2.97],[0.638,3.1],[0.65,3.07],[0.653,3.2],[0.665,3.23],[0.668,3.38],[0.68,3.47],[0.683,3.62],[0.695,3.62],[0.698,3.77],[0.71,3.77],[0.713,3.92],[0.725,3.92],[0.728,4.07],[0.74,4.07],[0.743,4.22],[0.755,4.22],[0.758,4.37],[0.77,4.37],[0.773,4.52],[0.785,4.53],[0.788,4.68],[0.798,4.7],[0.801,4.82],[0.813,4.95]],
 [[0.004,0.03],[0.02,0.12],[0.04,0.27],[0.06,0.38],[0.08,0.52],[0.1,0.6],[0.12,0.76],[0.14,0.86],[0.16,0.99],[0.18,1.04],[0.2,1.17],[0.22,1.28],[0.24,1.35],[0.26,1.47],[0.28,1.53],[0.3,1.63],[0.32,1.71],[0.34,1.8],[0.36,1.87],[0.38,1.97],[0.4,2.03],[0.42,2.12],[0.44,2.19],[0.46,2.31],[0.48,2.36],[0.5,2.44],[0.52,2.51],[0.54,2.6],[0.56,2.68],[0.58,2.73],[0.6,2.83],[0.62,2.9],[0.64,2.98],[0.66,3.1],[0.68,3.16],[0.7,3.26],[0.715,3.3],[0.718,3.43],[0.73,3.39],[0.733,3.52],[0.745,3.49],[0.748,3.62],[0.76,3.61],[0.763,3.74],[0.775,3.75],[0.778,3.88],[0.79,3.89],[0.793,4.02],[0.805,4.02],[0.808,4.15],[0.82,4.15],[0.823,4.28],[0.835,4.32],[0.838,4.45],[0.85,4.49],[0.853,4.62],[0.86,4.63],[0.863,4.75],[0.869,4.86]],
 [[0.005,0.02],[0.02,0.14],[0.04,0.24],[0.06,0.4],[0.08,0.48],[0.1,0.63],[0.12,0.78],[0.14,0.84],[0.16,0.95],[0.18,1.08],[0.2,1.15],[0.22,1.27],[0.24,1.33],[0.26,1.45],[0.28,1.51],[0.3,1.62],[0.32,1.69],[0.34,1.81],[0.36,1.85],[0.38,1.95],[0.4,2.01],[0.42,2.11],[0.44,2.2],[0.46,2.27],[0.48,2.38],[0.5,2.41],[0.52,2.53],[0.54,2.59],[0.56,2.7],[0.58,2.75],[0.6,2.8],[0.62,2.92],[0.64,2.97],[0.66,3.08],[0.68,3.13],[0.7,3.22],[0.72,3.3],[0.74,3.42],[0.76,3.5],[0.775,3.52],[0.778,3.63],[0.79,3.59],[0.793,3.7],[0.805,3.66],[0.808,3.78],[0.82,3.74],[0.823,3.86],[0.835,3.84],[0.838,3.96],[0.85,3.94],[0.853,4.07],[0.865,4.08],[0.868,4.22],[0.878,4.25],[0.881,4.4],[0.89,4.45],[0.893,4.6],[0.9,4.75]],
 [[0.006,0.03],[0.02,0.12],[0.04,0.3],[0.06,0.37],[0.08,0.53],[0.1,0.62],[0.12,0.74],[0.14,0.87],[0.16,0.93],[0.18,1.06],[0.2,1.19],[0.22,1.24],[0.24,1.36],[0.26,1.41],[0.28,1.54],[0.3,1.6],[0.32,1.7],[0.34,1.79],[0.36,1.88],[0.38,1.92],[0.4,2.04],[0.42,2.09],[0.44,2.2],[0.46,2.29],[0.48,2.36],[0.5,2.43],[0.52,2.5],[0.54,2.6],[0.56,2.66],[0.58,2.76],[0.6,2.82],[0.62,2.88],[0.64,2.99],[0.66,3.05],[0.68,3.15],[0.7,3.2],[0.72,3.32],[0.74,3.38],[0.76,3.48],[0.78,3.55],[0.8,3.62],[0.815,3.66],[0.818,3.76],[0.83,3.73],[0.833,3.83],[0.845,3.8],[0.848,3.92],[0.86,3.9],[0.863,4.02],[0.875,4.0],[0.878,4.12],[0.89,4.1],[0.893,4.22],[0.905,4.2],[0.908,4.3],[0.915,4.3],[0.92,4.42],[0.926,4.72]]
];

// ---------- annotation arrows (data coordinates) ----------
const A_arrow = [[25.9, 2.37], [43.9, 0.55]];
const B_arrow = [[0.255, 7.29], [0.634, 6.52]];
const C_arrow = [[19.6, 1.856], [34.0, 0.42]];
const D_arrow = [[0.267, 6.6], [0.67, 5.71]];

// ================= build chart =================
const FONT = '"Liberation Sans", Arial, Helvetica, sans-serif';
const AX = '#262626';
const ORANGE = '#D95319', GRAY = '#A8A8A8', BLACK = '#000000', DARK = '#3A3A3A';

const grids = [
  {left: 85,  top: 34,  width: 469, height: 374},
  {left: 126, top: 65,  width: 205, height: 170, show: true, backgroundColor: '#fff', borderWidth: 0},
  {left: 697, top: 34,  width: 469, height: 374},
  {left: 85,  top: 516, width: 469, height: 375},
  {left: 131, top: 548, width: 207, height: 169, show: true, backgroundColor: '#fff', borderWidth: 0},
  {left: 697, top: 516, width: 469, height: 375}
];
const axisDefs = [
  {x: [-46.5, 49.5],   xt: A_xticks, y: [0, 3],        yt: A_yticks, tl: 5, inset: false},
  {x: [-25.3, 213.6],  xt: inset_xticks, y: [0, 7.55], yt: inset_yticks, tl: 4, inset: true},
  {x: [-0.035, 0.989], xt: B_xticks, y: [0, 7.75],     yt: B_yticks, tl: 5, inset: false},
  {x: [-37.4, 38.4],   xt: C_xticks, y: [-0.025, 2.34], yt: C_yticks, tl: 5, inset: false},
  {x: [-16.8, 207],    xt: inset_xticks, y: [-0.02, 6.7], yt: inset_yticks, tl: 4, inset: true},
  {x: [-0.032, 0.93],  xt: D_xticks, y: [0, 6.85],     yt: D_yticks, tl: 5, inset: false}
];
const xAxis = [], yAxis = [];
axisDefs.forEach((d, g) => {
  const line = {show: true, onZero: false, lineStyle: {color: AX, width: 1}};
  const lab = {fontSize: 22, color: AX, fontFamily: FONT};
  const mk = (ticks, pos, showLab, margin) => ({
    axisLine: line,
    axisTick: {show: true, inside: true, length: d.tl, customValues: ticks, lineStyle: {color: AX, width: 1}},
    axisLabel: Object.assign({show: showLab, customValues: ticks, margin: margin}, lab),
    splitLine: {show: false}, position: pos
  });
  xAxis.push(Object.assign({type: 'value', gridIndex: g, min: d.x[0], max: d.x[1]}, mk(d.xt, 'bottom', true, d.inset ? 5 : 11)));
  xAxis.push(Object.assign({type: 'value', gridIndex: g, min: d.x[0], max: d.x[1]}, mk(d.xt, 'top', false, 8)));
  yAxis.push(Object.assign({type: 'value', gridIndex: g, min: d.y[0], max: d.y[1]}, mk(d.yt, 'left', true, d.inset ? 6 : 8)));
  yAxis.push(Object.assign({type: 'value', gridIndex: g, min: d.y[0], max: d.y[1]}, mk(d.yt, 'right', false, 8)));
});

const series = [];
function addLines(list, g, color, width, z) {
  list.forEach(d => series.push({
    type: 'line', xAxisIndex: 2 * g, yAxisIndex: 2 * g, data: d,
    showSymbol: false, symbol: 'none', clip: true, silent: true, animation: false,
    lineStyle: {color: color, width: width}, z: z || 2
  }));
}
addLines(A_gray, 0, GRAY, 1.3, 2);
addLines(A_orange, 0, ORANGE, 1.3, 3);
addLines(A_black, 0, BLACK, 1.2, 4);
addLines(A_inset_dark, 1, DARK, 1, 5);
addLines(A_black, 1, DARK, 1.3, 5);
addLines(A_gray, 1, GRAY, 1.3, 6);
addLines(A_orange, 1, ORANGE, 1.3, 7);
addLines(B_black, 2, BLACK, 1.1, 3);
addLines(B_gray, 2, GRAY, 1.2, 4);
addLines(B_orange, 2, ORANGE, 1.3, 5);
addLines(C_gray, 3, GRAY, 1.3, 2);
addLines(C_orange, 3, ORANGE, 1.3, 3);
addLines(C_black, 3, BLACK, 1.2, 4);
addLines(C_inset_dark, 4, DARK, 1, 5);
addLines(C_black, 4, DARK, 1.3, 5);
addLines(C_gray, 4, GRAY, 1.2, 6);
addLines(C_orange, 4, ORANGE, 1.2, 7);
addLines(D_black, 5, BLACK, 1.1, 3);
addLines(D_gray, 5, GRAY, 1.2, 4);
addLines(D_orange, 5, ORANGE, 1.3, 5);

const CHEVRON = 'path://M5,0 L10,11 L8.4,11 L5,3.4 L1.6,11 L0,11 Z';
function addArrow(coords, g) {
  series.push({
    type: 'lines', coordinateSystem: 'cartesian2d', xAxisIndex: 2 * g, yAxisIndex: 2 * g,
    data: [{coords: coords}], silent: true, animation: false, z: 20,
    symbol: ['none', CHEVRON], symbolSize: [10, 12],
    lineStyle: {color: '#000', width: 1.4, opacity: 1}
  });
}
addArrow(A_arrow, 0); addArrow(B_arrow, 2); addArrow(C_arrow, 3); addArrow(D_arrow, 5);

// ---------- texts ----------
function T(x, y, text, size, o) {
  o = o || {};
  const st = {
    text: text, fontSize: size, fontFamily: o.family || FONT, fontWeight: o.bold ? 'bold' : 'normal',
    fill: o.color || AX, textAlign: o.align || 'center', align: o.align || 'center',
    textVerticalAlign: 'middle', verticalAlign: 'middle'
  };
  if (o.rich) st.rich = o.rich;
  return {type: 'text', x: x, y: y, rotation: o.rot || 0, z: 100, silent: true, style: st};
}
// small up-arrow glyph of the "↑Δt" labels (pixel annotation)
function upArrow(x, yTop, yBot) {
  return [
    {type: 'line', z: 100, silent: true, shape: {x1: x, y1: yBot, x2: x, y2: yTop + 3}, style: {stroke: '#000', lineWidth: 1.2}},
    {type: 'polygon', z: 100, silent: true, shape: {points: [[x - 2.6, yTop + 6], [x, yTop], [x + 2.6, yTop + 6]]}, style: {fill: '#000'}}
  ];
}
const supRich = {
  a: {fontSize: 24.5, fontFamily: FONT, fill: AX, lineHeight: 28},
  s: {fontSize: 17, fontFamily: FONT, fill: AX, verticalAlign: 'top', lineHeight: 17}
};
const YT = '{a|Contact area A (m}{s|2}{a|)}';
const IT = '{a|A (m}{s|2}{a|)}';
const graphic = [
  T(319, 462, 'Normal indentation z (μm)', 24.5),
  T(29, 221, YT, 24.5, {rot: Math.PI / 2, rich: supRich}),
  T(931, 462, 'Tangential force Q (N)', 24.5),
  T(661, 221, YT, 24.5, {rot: Math.PI / 2, rich: supRich}),
  T(319, 945, 'Normal indentation z (μm)', 24.5),
  T(29, 703, YT, 24.5, {rot: Math.PI / 2, rich: supRich}),
  T(931, 945, 'Tangential force Q (N)', 24.5),
  T(661, 703, YT, 24.5, {rot: Math.PI / 2, rich: supRich}),
  T(147, 147, IT, 24.5, {rot: Math.PI / 2, rich: supRich}),
  T(238, 221, 'z (μm)', 24.5),
  T(154, 624, IT, 24.5, {rot: Math.PI / 2, rich: supRich}),
  T(243, 705, 'z (μm)', 24.5),
  T(88, 21, '×10', 22, {align: 'left'}), T(129, 11.5, '-6', 16, {align: 'left'}),
  T(699.5, 21, '×10', 22, {align: 'left'}), T(740.5, 11.5, '-6', 16, {align: 'left'}),
  T(88, 504, '×10', 22, {align: 'left'}), T(129, 496, '-6', 16, {align: 'left'}),
  T(699.5, 504, '×10', 22, {align: 'left'}), T(740.5, 496, '-6', 16, {align: 'left'}),
  T(129, 54, '×10', 19.5, {align: 'left'}), T(165, 45.5, '-6', 15, {align: 'left'}),
  T(135, 537, '×10', 19.5, {align: 'left'}), T(171, 529, '-6', 15, {align: 'left'}),
  T(483, 63, 'A', 25, {bold: true, color: '#000'}),
  T(1147.5, 57.5, 'B', 25, {bold: true, color: '#000'}),
  T(523, 547.5, 'C', 25, {bold: true, color: '#000'}),
  T(1147.5, 541, 'D', 25, {bold: true, color: '#000'}),
  T(504, 341, 'Δ', 30, {color: '#000'}),
  T(521, 357, 't', 21, {bold: true, color: '#000'}),
  T(997, 66.5, 'Δ', 30, {color: '#000'}),
  T(1014, 82, 't', 21, {bold: true, color: '#000'}),
  T(504, 825, 'Δ', 30, {color: '#000'}),
  T(521, 841, 't', 21, {bold: true, color: '#000'}),
  T(975, 540, 'Δ', 30, {color: '#000'}),
  T(992, 556, 't', 21, {bold: true, color: '#000'})
].concat(upArrow(489, 328, 347), upArrow(980, 55, 73), upArrow(487, 812, 830), upArrow(958, 528, 546));

const chart = echarts.init(document.getElementById('c'), null, {renderer: 'canvas', width: 1174, height: 962});
chart.setOption({
  animation: false,
  backgroundColor: '#fff',
  grid: grids,
  xAxis: xAxis,
  yAxis: yAxis,
  series: series,
  graphic: graphic
});
</script></body></html>
